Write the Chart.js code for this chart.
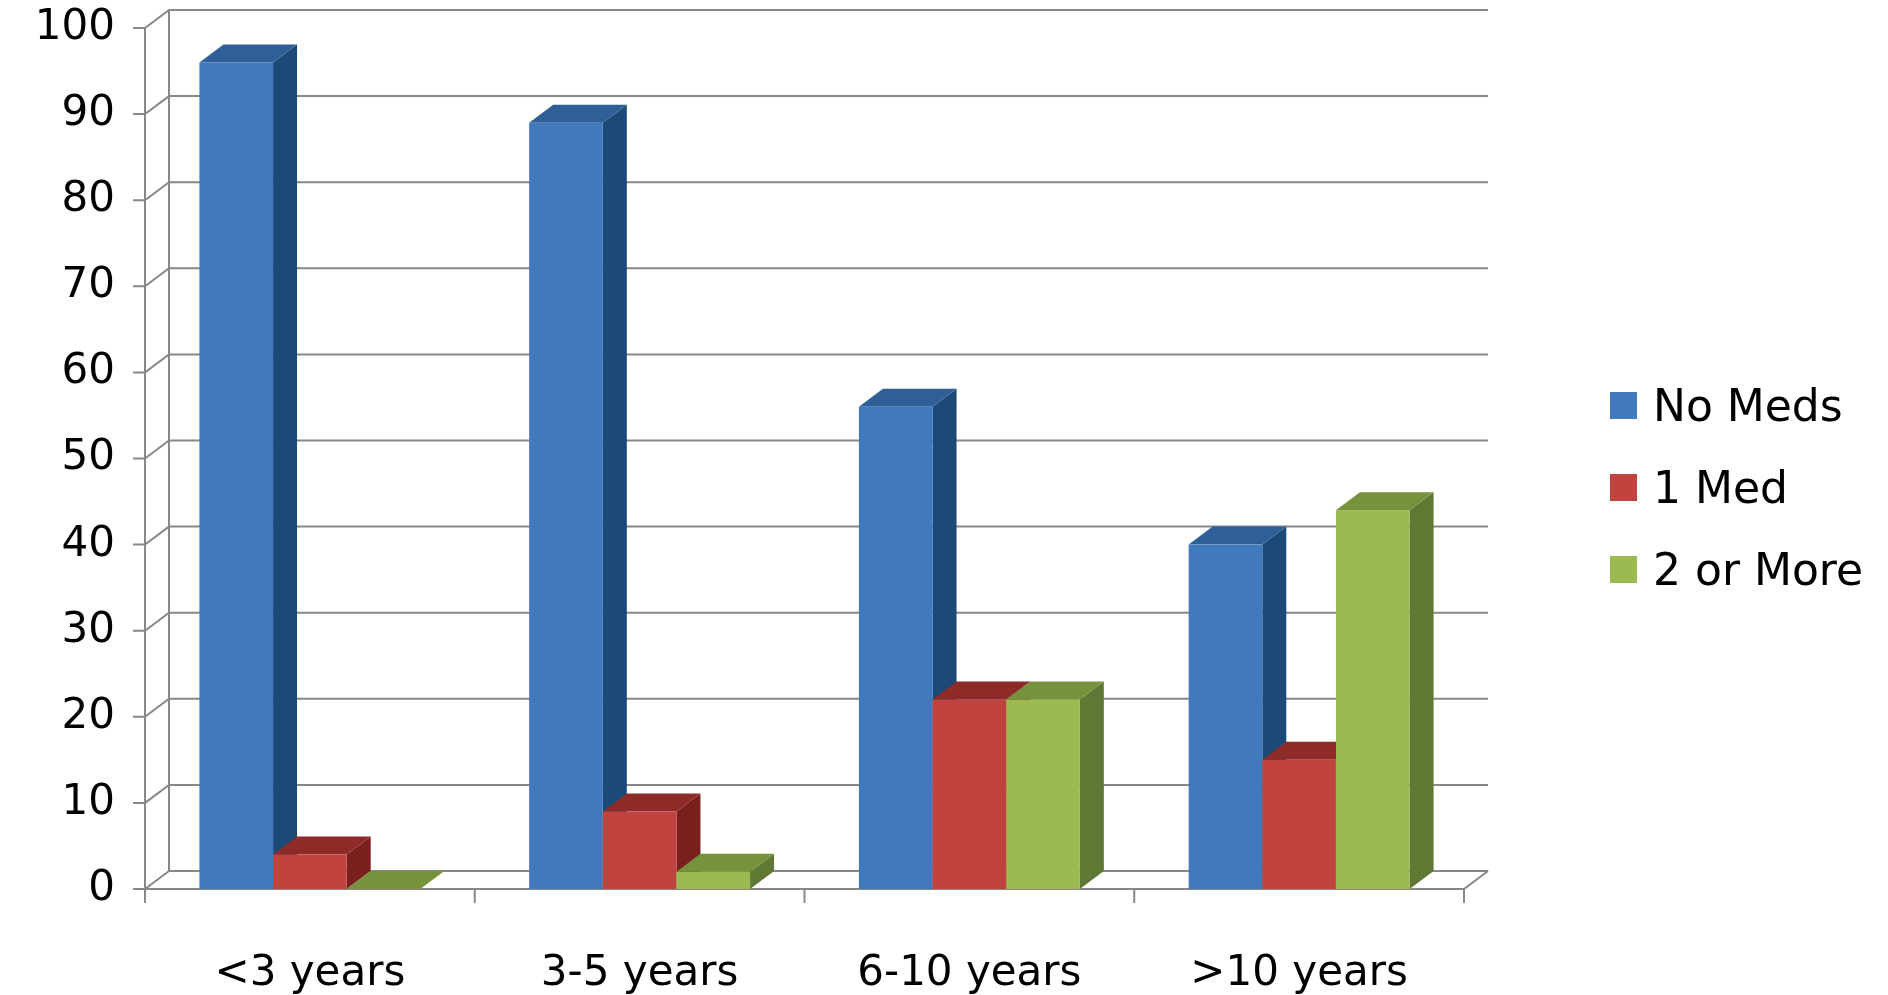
<!DOCTYPE html>
<html><head><meta charset="utf-8">
<script src="https://cdn.jsdelivr.net/npm/chart.js@4"></script>
<style>
html,body{margin:0;padding:0;background:#fff;}
#wrap{position:relative;width:1888px;height:995px;}
.lg{position:absolute;left:1610px;font:44px "DejaVu Sans",sans-serif;color:#000;display:flex;align-items:center;}
.lg span{display:inline-block;width:27px;height:27px;margin-right:16px;}
</style></head>
<body><div id="wrap"><canvas id="c" width="1888" height="995"></canvas>
<div class="lg" style="top:380px"><span style="background:#4079BC"></span>No Meds</div>
<div class="lg" style="top:462px"><span style="background:#C0433F"></span>1 Med</div>
<div class="lg" style="top:544px"><span style="background:#9BBB50"></span>2 or More</div>
</div>
<script>
const categories = ['<3 years','3-5 years','6-10 years','>10 years'];
const noMeds = [96, 89, 56, 40];
const oneMed = [4, 9, 22, 15];
const twoOrMore = [0, 2, 22, 44];
const seriesNames = ['No Meds','1 Med','2 or More'];
const yTicks = [0,10,20,30,40,50,60,70,80,90,100];

const front = ['#4079BC','#C0433F','#9BBB50'];
const topC = ['#2E5F96','#8E2A28','#76923C'];
const sideC = ['#1B4A78','#7A1F1D','#5F7833'];
const DX = 24, DY = -18;

const threeD = {
  id:'threeD',
  beforeDatasetsDraw(chart){
    const ctx = chart.ctx, y = chart.scales.y, a = chart.chartArea;
    const L = a.left, R = a.right;
    ctx.save();
    ctx.strokeStyle = '#888'; ctx.lineWidth = 2;
    yTicks.forEach(v=>{
      const py = y.getPixelForValue(v);
      ctx.beginPath();
      ctx.moveTo(L-12, py); ctx.lineTo(L, py);
      ctx.lineTo(L+DX, py+DY); ctx.lineTo(R+DX, py+DY);
      ctx.stroke();
    });
    const y0 = y.getPixelForValue(0), y100 = y.getPixelForValue(100);
    ctx.beginPath();
    ctx.moveTo(L, y0); ctx.lineTo(L, y100);
    ctx.moveTo(L+DX, y0+DY); ctx.lineTo(L+DX, y100+DY);
    ctx.moveTo(L, y0); ctx.lineTo(R, y0); ctx.lineTo(R+DX, y0+DY);
    const n = categories.length, w = (R-L)/n;
    for(let i=0;i<=n;i++){ ctx.moveTo(L+i*w, y0); ctx.lineTo(L+i*w, y0+14); }
    ctx.stroke();
    ctx.restore();
  },
  afterDatasetsDraw(chart){
    const ctx = chart.ctx, bars = [];
    chart.data.datasets.forEach((d,di)=>{
      chart.getDatasetMeta(di).data.forEach(el=>bars.push({el,di}));
    });
    bars.sort((p,q)=>p.el.x-q.el.x);
    ctx.save();
    bars.forEach(({el,di})=>{
      const l = el.x-el.width/2, r = el.x+el.width/2, t = el.y, b = el.base;
      ctx.fillStyle = sideC[di];
      ctx.beginPath(); ctx.moveTo(r,b); ctx.lineTo(r,t); ctx.lineTo(r+DX,t+DY); ctx.lineTo(r+DX,b+DY); ctx.closePath(); ctx.fill();
      ctx.fillStyle = topC[di];
      ctx.beginPath(); ctx.moveTo(l,t); ctx.lineTo(r,t); ctx.lineTo(r+DX,t+DY); ctx.lineTo(l+DX,t+DY); ctx.closePath(); ctx.fill();
      ctx.fillStyle = front[di];
      ctx.fillRect(l,t,r-l,b-t);
    });
    ctx.restore();
  }
};

new Chart(document.getElementById('c'),{
  type:'bar',
  data:{labels:categories,datasets:[
    {label:seriesNames[0],data:noMeds,backgroundColor:'rgba(0,0,0,0)'},
    {label:seriesNames[1],data:oneMed,backgroundColor:'rgba(0,0,0,0)'},
    {label:seriesNames[2],data:twoOrMore,backgroundColor:'rgba(0,0,0,0)'}
  ]},
  options:{
    responsive:false,animation:false,
    layout:{padding:{top:28,right:424,left:0,bottom:0}},
    plugins:{legend:{display:false},tooltip:{enabled:false}},
    datasets:{bar:{categoryPercentage:0.67,barPercentage:1}},
    scales:{
      x:{grid:{display:false},border:{display:false},
         ticks:{color:'#000',font:{size:42,family:'DejaVu Sans'},padding:52},
         afterFit(s){s.height=106;}},
      y:{min:0,max:100,grid:{display:false},border:{display:false},
         ticks:{stepSize:10,color:'#000',font:{size:42,family:'DejaVu Sans'},padding:22},
         afterFit(s){s.width=145;s.paddingTop=0;s.paddingBottom=0;}}
    }
  },
  plugins:[threeD]
});
</script></body></html>
